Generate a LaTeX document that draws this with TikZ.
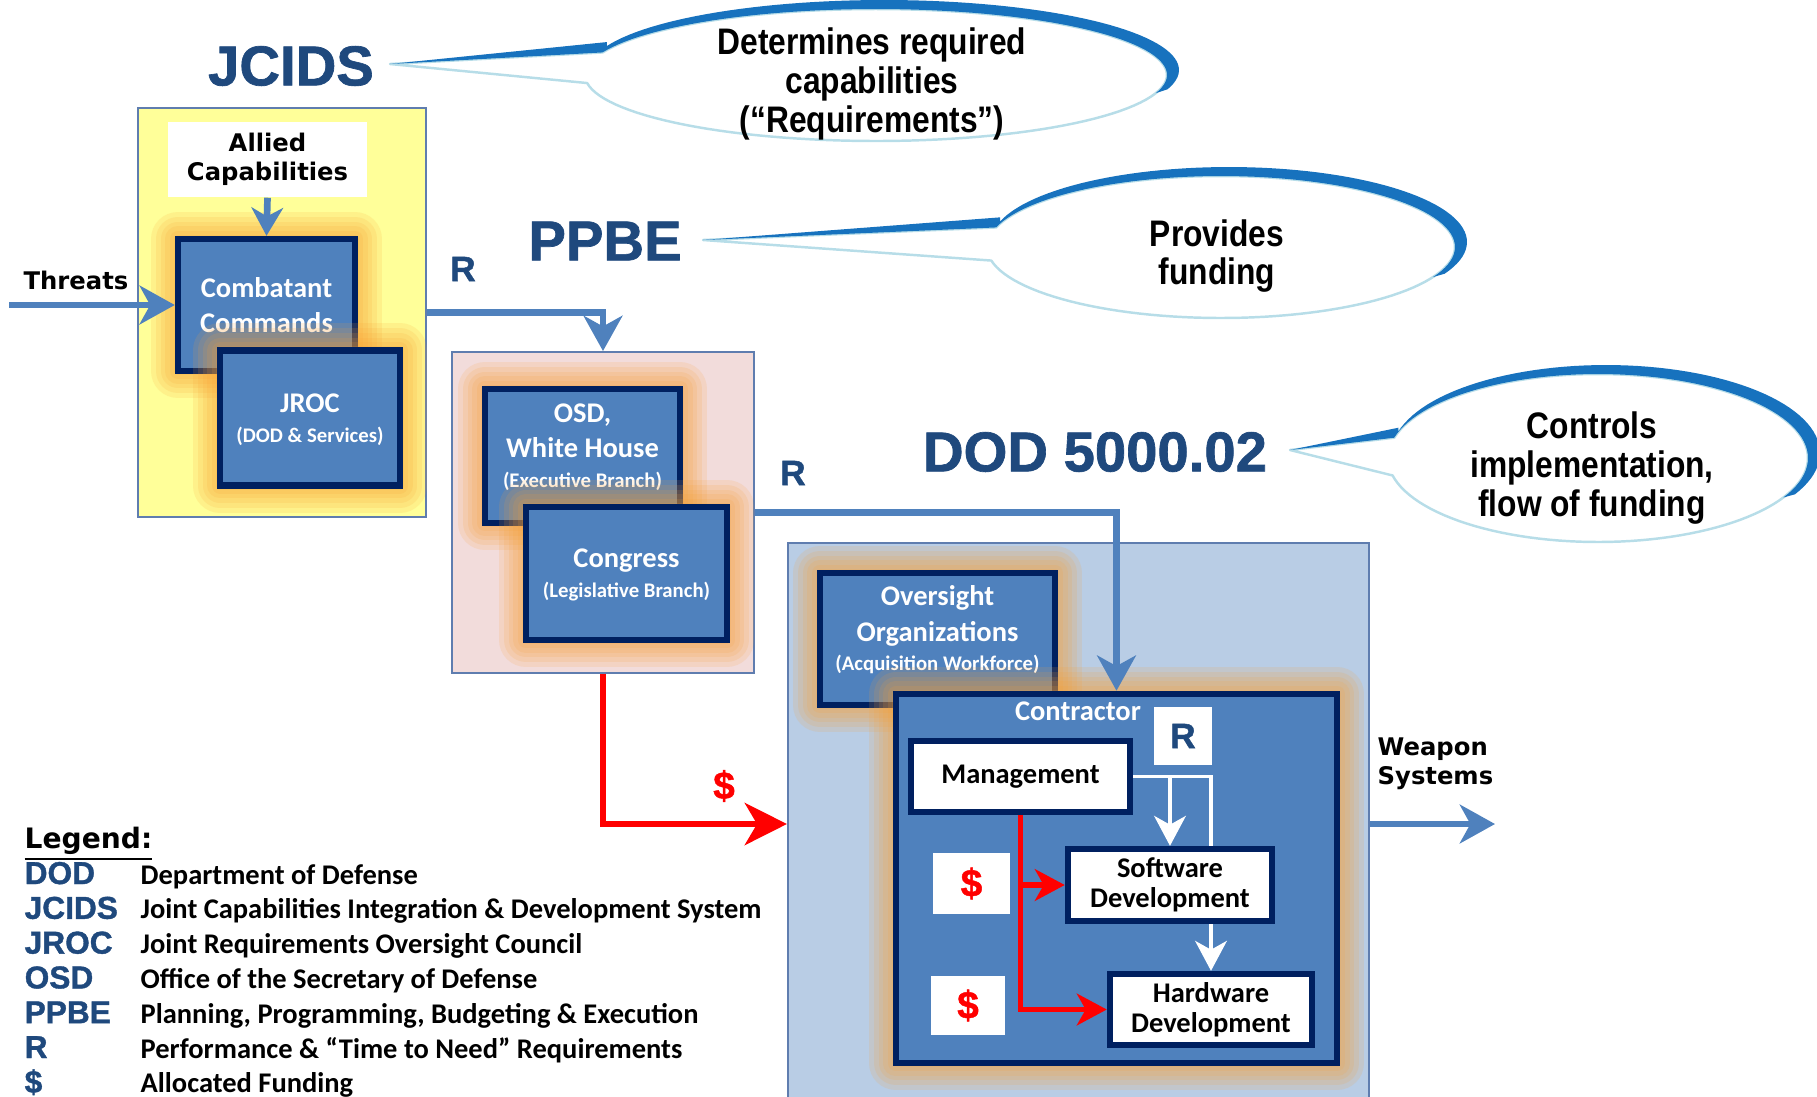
\documentclass[tikz,border=0pt]{standalone}
\usepackage{fontspec}
\setmainfont{Carlito}
\newfontfamily\heavyfont[FakeBold=1.2]{Liberation Sans Bold}
\newfontfamily\blackfont{DejaVu Sans}
\newfontfamily\narrowfont[FakeStretch=0.86]{Liberation Sans}
\usetikzlibrary{arrows.meta}

\definecolor{navy}{RGB}{0,32,96}
\definecolor{boxblue}{RGB}{79,129,189}
\definecolor{titleblue}{RGB}{31,73,125}
\definecolor{capyellow}{RGB}{255,255,153}
\definecolor{budgetpink}{RGB}{242,220,219}
\definecolor{acqblue}{RGB}{185,205,229}
\definecolor{areaedge}{RGB}{95,125,175}
\definecolor{glowc}{RGB}{250,160,50}
\definecolor{bubbleedge}{RGB}{183,221,232}
\definecolor{bubbleblue}{RGB}{23,114,190}

\newcommand\smallnote[1]{{\fontsize{5.9}{7}\selectfont #1}}
% speech bubble: cx cy rx ry tipx tipy top-angle bottom-angle end-of-shade
\newcommand\bubble[9]{%
  \filldraw[fill=white, draw=bubbleedge, line width=0.7pt, line join=round]
    (#5,#6) -- plot[domain=#7:#8, samples=120] ({#1+#3*cos(\x)}, {#2+#4*sin(\x)}) -- cycle;
  \fill[bubbleblue]
    (#5,#6) -- ({#1+8+(#3+4)*cos(#7)}, {#2-9+(#4+4)*sin(#7)})
    -- plot[domain=#7:#9, samples=70] ({#1+8+(#3+4)*cos(\x)}, {#2-5+(#4+4)*sin(\x)})
    -- plot[domain=#7:#9, samples=70] ({#1+#3*cos(#7+#9-\x)}, {#2+#4*sin(#7+#9-\x)}) -- cycle;
}

\begin{document}
\begin{tikzpicture}[x=0.01cm, y=-0.01cm,
    hz/.style={preaction={draw=glowc, draw opacity=.14, line width=#1, line join=round}},
    haze/.style={hz=.54cm, hz=.44cm, hz=.34cm, hz=.25cm, hz=.16cm, hz=.08cm},
    areabox/.style={draw=areaedge, line width=0.5pt, inner sep=0pt},
    orgbox/.style={haze, draw=navy, line width=1.8pt, fill=boxblue, text=white, align=center,
      inner sep=0pt, font=\bfseries\fontsize{8.1}{10}\selectfont},
    taskbox/.style={draw=navy, line width=1.8pt, fill=white, align=center, inner sep=0pt,
      font=\bfseries\fontsize{8.1}{8.6}\selectfont},
    title/.style={font=\heavyfont\fontsize{16}{19}\selectfont, text=titleblue, inner sep=0pt},
    note/.style={font=\narrowfont\bfseries\fontsize{10.5}{11}\selectfont, align=center, inner sep=0pt},
    blacklabel/.style={font=\blackfont\bfseries\fontsize{6.9}{8.3}\selectfont, align=center, inner sep=0pt},
    rmark/.style={font=\heavyfont\fontsize{10}{12}\selectfont, text=titleblue, inner sep=0pt},
    usd/.style={font=\heavyfont\fontsize{11}{13}\selectfont, text=red, inner sep=0pt},
    legabbr/.style={font=\heavyfont\fontsize{9}{11}\selectfont, text=titleblue, anchor=base west, inner sep=0pt},
    legtext/.style={font=\bfseries\fontsize{8.1}{10}\selectfont, anchor=base west, inner sep=0pt},
    flowline/.style={draw=boxblue, line width=1.9pt, -{Stealth[length=10pt, width=11pt, inset=3pt]}},
    fundline/.style={draw=red, line width=1.6pt, -{Stealth[length=12pt, width=12pt, inset=3.5pt]}},
    fundbranch/.style={draw=red, line width=1.5pt, -{Stealth[length=8.5pt, width=9pt, inset=2.5pt]}},
    taskline/.style={draw=white, line width=1.1pt},
    taskflow/.style={taskline, -{Stealth[length=8.5pt, width=9pt, inset=2.5pt]}}]
\useasboundingbox (0,0) rectangle (1817,1096);
\clip (0,0) rectangle (1817,1096);

% callouts
\bubble{876}{75}{291}{66}{390}{64}{200}{533}{376}
\bubble{1221}{247}{234}{71}{703}{240}{196}{529}{385}
\bubble{1598}{458}{210}{84}{1290}{450}{194}{528}{388}
\node[note] (jcidsnote) at (872,84) {Determines required\\capabilities\\(“Requirements”)};
\node[note] (ppbenote) at (1217,256) {Provides\\funding};
\node[note] (dodnote) at (1592,468) {Controls\\implementation,\\flow of funding};

\node[title] (jcids) at (291,66) {JCIDS};
\node[title] (ppbe) at (605,241) {PPBE};
\node[title] (dodref) at (1095,452) {DOD 5000.02};

% requirements
\node[areabox, fill=capyellow, minimum width=2.88cm, minimum height=4.09cm] (capbox) at (282,312.5) {};
\node[blacklabel, fill=white, minimum width=1.99cm, minimum height=0.75cm] (allied) at (267.5,159.5) {Allied\\Capabilities};
\node[orgbox, minimum width=1.77cm, minimum height=1.32cm] (combatant) at (266.5,305) {Combatant\\Commands};
\node[orgbox, text depth=0pt, minimum width=1.80cm, minimum height=1.35cm] (jroc) at (310,418) {JROC\\[-1.5pt]\smallnote{(DOD \& Services)}};

% funding
\node[areabox, fill=budgetpink, minimum width=3.02cm, minimum height=3.21cm] (budgetbox) at (603,512.5) {};
\node[orgbox, text depth=6pt, minimum width=1.95cm, minimum height=1.34cm] (osd) at (582.5,456) {OSD,\\White House\\[-1.5pt]\smallnote{(Executive Branch)}};
\node[orgbox, text depth=0pt, minimum width=2.01cm, minimum height=1.33cm] (congress) at (626.5,573.5) {Congress\\[-1.5pt]\smallnote{(Legislative Branch)}};

% acquisition
\node[areabox, fill=acqblue, minimum width=5.81cm, minimum height=5.62cm] (acqbox) at (1078.5,824) {};
\node[orgbox, text depth=6pt, minimum width=2.35cm, minimum height=1.32cm] (oversight) at (937.5,639) {Oversight\\Organizations\\[-1.5pt]\smallnote{(Acquisition Workforce)}};
\node[orgbox, minimum width=4.41cm, minimum height=3.69cm] (contractor) at (1116.5,878.5) {};
\node[text=white, font=\bfseries\fontsize{8.1}{10}\selectfont, inner sep=0pt] (contractortxt) at (1078,711) {Contractor};
\node[rmark, fill=white, minimum width=0.58cm, minimum height=0.58cm] (rbox) at (1183,736) {R};
\node[taskbox, minimum width=2.19cm, minimum height=0.71cm] (management) at (1020.5,776.5) {Management};
\node[taskbox, minimum width=2.04cm, minimum height=0.72cm] (software) at (1170,885) {Software\\Development};
\node[taskbox, minimum width=2.02cm, minimum height=0.71cm] (hardware) at (1211,1009.5) {Hardware\\Development};
\node[usd, fill=white, minimum width=0.77cm, minimum height=0.61cm] (usd1) at (971.5,883.5) {\$};
\node[usd, fill=white, minimum width=0.74cm, minimum height=0.59cm] (usd2) at (968,1005.5) {\$};

% connectors
\coordinate (threatsin) at (9,305);
\coordinate (weaponsout) at (1495,824);
\draw[flowline] (threatsin) -- (combatant.west);
\draw[flowline, -{Stealth[length=8pt, width=9pt, inset=2.5pt]}] (allied.south) -- (combatant.north);
\draw[flowline] (capbox.east) -| (budgetbox.north);
\draw[flowline] (budgetbox.east) -| (contractor.north);
\draw[flowline] (acqbox.east) -- (weaponsout);
\draw[fundline] (budgetbox.south) |- (acqbox.west);
\draw[fundbranch] (management.south) |- (hardware.west);
\draw[fundbranch] (management.south |- software.west) -- (software.west);
\draw[taskline] (management.east) -| (software.north -| hardware.north);
\draw[taskflow] (management.east -| software.north) -- (software.north);
\draw[taskflow] (software.south -| hardware.north) -- (hardware.north);

% labels
\node[blacklabel] (threats) at (76,280) {Threats};
\node[blacklabel, align=left, anchor=west] (weapons) at (1377,764) {Weapon\\Systems};
\node[rmark] (rlabel1) at (463,269) {R};
\node[rmark] (rlabel2) at (793,473) {R};
\node[usd] (usdlabel) at (724,786) {\$};

% legend
\node[blacklabel, font=\blackfont\bfseries\fontsize{8}{10}\selectfont, anchor=base west] (legend) at (24,848) {\underline{Legend:}};
\foreach \abbr/\full [count=\i from 0] in {DOD/Department of Defense,
    JCIDS/Joint Capabilities Integration \& Development System,
    JROC/Joint Requirements Oversight Council,
    OSD/Office of the Secretary of Defense,
    PPBE/{Planning, Programming, Budgeting \& Execution},
    R/Performance \& “Time to Need” Requirements,
    \$/Allocated Funding}{
  \node[legabbr] (abbr\i) at (24,{884+34.8*\i}) {\abbr};
  \node[legtext] (full\i) at (140,{884+34.8*\i}) {\full};
}
\end{tikzpicture}
\end{document}
